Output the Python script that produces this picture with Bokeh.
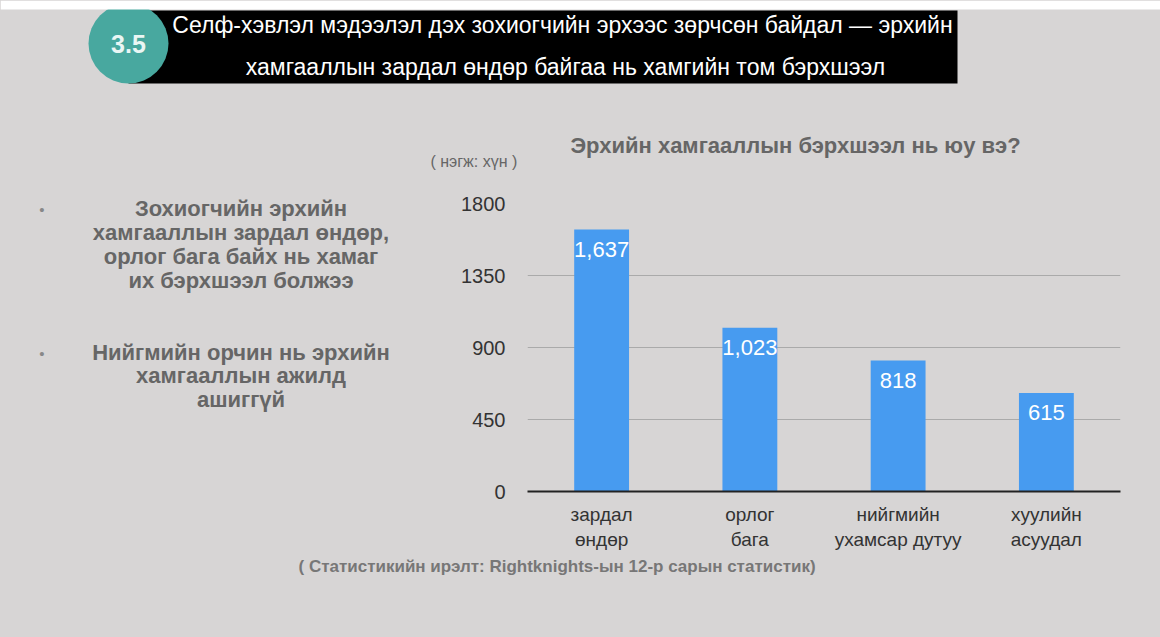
from bokeh.plotting import figure
from bokeh.layouts import column, row
from bokeh.models import (ColumnDataSource, FactorRange, Range1d, FixedTicker, LabelSet, Div)
from bokeh.core.properties import value
from bokeh.embed import file_html
from bokeh.resources import INLINE

# ---------------- data ----------------
categories = ["зардал\nөндөр", "орлог\nбага", "нийгмийн\nухамсар дутуу", "хуулийн\nасуудал"]
values = [1637, 1023, 818, 615]
value_labels = ["1,637", "1,023", "818", "615"]
y_ticks = [0, 450, 900, 1350, 1800]

section_no = "3.5"
banner_lines = ["Селф-хэвлэл мэдээлэл дэх зохиогчийн эрхээс зөрчсөн байдал — эрхийн",
                "хамгааллын зардал өндөр байгаа нь хамгийн том бэрхшээл"]
chart_title = "Эрхийн хамгааллын бэрхшээл нь юу вэ?"
unit_note = "( нэгж: хүн )"
bullet1 = ["Зохиогчийн эрхийн", "хамгааллын зардал өндөр,", "орлог бага байх нь хамаг", "их бэрхшээл болжээ"]
bullet2 = ["Нийгмийн орчин нь эрхийн", "хамгааллын ажилд", "ашиггүй"]
source_note = "( Статистикийн ирэлт: Rightknights-ын 12-р сарын статистик)"

# ---------------- style ----------------
BG = "#d7d5d5"
FONT = "Liberation Sans"


def panel(x0, y0, w, h):
    f = figure(width=w, height=h, x_range=Range1d(x0, x0 + w), y_range=Range1d(y0 + h, y0),
               x_axis_type=None, y_axis_type=None, output_backend="svg",
               toolbar_location=None, min_border=0)
    f.background_fill_color = BG
    f.border_fill_color = BG
    f.outline_line_color = None
    f.xgrid.visible = False
    f.ygrid.visible = False
    return f


def txt(f, x, y, t, size, color, bold=False, align="center"):
    f.text(x=[x], y=[y], text=[t], text_font=value(FONT), text_font_size=size,
           text_color=color, text_font_style="bold" if bold else "normal",
           text_align=align, text_baseline="middle")


# ---------- top panel: banner + chart title ----------
top = panel(0, 0, 1160, 190)
top.quad(left=[128], right=[957], top=[10], bottom=[83], fill_color="black", line_color=None)
top.circle(x=[128], y=[43], radius=40, fill_color="#48a89f", line_color=None)
txt(top, 128, 43, section_no, "25px", "#eaf6f4", bold=True)
txt(top, 562, 24, banner_lines[0], "23px", "white")
txt(top, 565, 66, banner_lines[1], "23px", "white")
top.quad(left=[0], right=[1160], top=[0], bottom=[9], fill_color="white", line_color=None)
txt(top, 795, 145, chart_title, "22px", "#666666", bold=True)
txt(top, 430, 161, unit_note, "16px", "#666666", align="left")

# ---------- left panel: bullet notes (HTML text) ----------
Y0 = 190
parts = []
def line_div(x_left, width, y_center, t, size, color, bold):
    return ('<div style="position:absolute;left:%dpx;width:%dpx;top:%dpx;height:24px;'
            'line-height:24px;text-align:center;white-space:nowrap;font-family:\'%s\';'
            'font-size:%s;font-weight:%s;color:%s;">%s</div>'
            % (x_left, width, round(y_center - Y0 - 12), FONT, size,
               "bold" if bold else "normal", color, t))

parts.append(line_div(32, 20, 210, "•", "15px", "#888888", False))
parts.append(line_div(32, 20, 354, "•", "15px", "#888888", False))
for i, t in enumerate(bullet1):
    parts.append(line_div(41, 400, 209 + i * 24, t, "22px", "#666666", True))
for i, t in enumerate(bullet2):
    parts.append(line_div(41, 400, 353 + i * 23.5, t, "22px", "#666666", True))
left = Div(text='<div style="position:relative;width:420px;height:365px;background:%s;">%s</div>'
           % (BG, "".join(parts)), width=420, height=365, margin=0,
           styles={"background-color": BG, "padding": "0", "margin": "0"})

# ---------- chart ----------
p = figure(width=740, height=365, x_range=FactorRange(factors=categories),
           y_range=Range1d(0, 1800), output_backend="svg", toolbar_location=None,
           min_border_left=107, min_border_right=40, min_border_top=13,
           min_border_bottom=64)
p.background_fill_color = BG
p.border_fill_color = BG
p.outline_line_color = None

src = ColumnDataSource(dict(cat=categories, val=values, lbl=value_labels))
p.vbar(x="cat", top="val", width=0.37, source=src, fill_color="#479bf0", line_color=None)
p.add_layout(LabelSet(x="cat", y="val", text="lbl", source=src, text_align="center",
                      text_baseline="top", y_offset=-12, text_color="white",
                      text_font_size="22px", text_font=value(FONT)))

p.yaxis.ticker = FixedTicker(ticks=y_ticks)
p.yaxis.axis_line_color = None
p.yaxis.major_tick_line_color = None
p.yaxis.minor_tick_line_color = None
p.yaxis.major_tick_out = 0
p.yaxis.major_label_standoff = 22
p.yaxis.major_label_text_font = FONT
p.yaxis.major_label_text_font_size = "20px"
p.yaxis.major_label_text_color = "#333333"

p.xaxis.axis_line_color = "#222222"
p.xaxis.axis_line_width = 2
p.xaxis.major_tick_line_color = None
p.xaxis.minor_tick_line_color = None
p.xaxis.major_tick_out = 0
p.xaxis.major_label_standoff = 12
p.xaxis.major_label_text_font = FONT
p.xaxis.major_label_text_font_size = "19px"
p.xaxis.major_label_text_color = "#333333"

p.xgrid.grid_line_color = None
p.ygrid.grid_line_color = "#aaaaaa"
p.ygrid.grid_line_width = 1

# ---------- bottom panel: source ----------
bottom = panel(0, 555, 1160, 82)
txt(bottom, 298, 566, source_note, "17px", "#777777", bold=True, align="left")

layout = column(top, row(left, p), bottom)
html = file_html(layout, INLINE, title="chart")
html = html.replace("</head>", "<style>html, body { background: %s; }</style></head>" % BG, 1)
open("out.html", "w").write(html)
